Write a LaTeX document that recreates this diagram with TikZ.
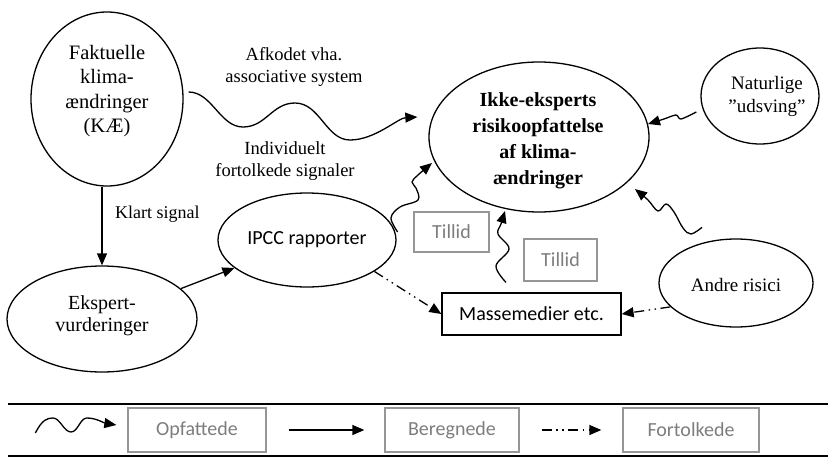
\documentclass[tikz,border=0pt]{standalone}
\usepackage{fontspec}
\setmainfont{Liberation Serif}
\newfontfamily\calib{Carlito}
\usetikzlibrary{arrows.meta,shapes.geometric,calc}
\definecolor{boxgray}{RGB}{150,150,150}
\definecolor{txtgray}{RGB}{125,125,125}
\begin{document}
\begin{tikzpicture}[x=1pt,y=-1pt,
  ell/.style={draw, ellipse, line width=1.3pt, inner sep=0pt},
  lbl/.style={align=center, inner sep=0pt},
  sansbox/.style={draw, line width=1.3pt, inner sep=0pt, font=\calib\fontsize{20}{24}\selectfont},
  gbox/.style={draw=boxgray, line width=1.3pt, text=txtgray, inner sep=0pt, font=\calib\fontsize{20}{24}\selectfont},
  conn/.style={line width=1.3pt, -{Triangle[length=12pt,width=10pt]}},
  wavy/.style={conn, line join=round},
  dd/.style={conn, dash pattern=on 10pt off 4.5pt on 1.5pt off 4.5pt on 1.5pt off 4.5pt},
  rule/.style={line width=1.8pt}
]
\useasboundingbox (0,0) rectangle (831,458);

% ellipses and boxes
\node[ell, minimum width=152pt, minimum height=174pt] (fak) at (107,99) {};
\node[ell, minimum width=190pt, minimum height=106pt] (eks) at (102,319) {};
\node[ell, minimum width=178pt, minimum height=94pt, font=\calib\fontsize{20}{24}\selectfont] (ipcc) at (307,240) {IPCC rapporter};
\node[ell, minimum width=220pt, minimum height=150pt] (ikke) at (539,137) {};
\node[ell, minimum width=118pt, minimum height=96pt] (nat) at (760,96) {};
\node[ell, minimum width=154pt, minimum height=88pt] (andre) at (736,283) {};
\node[sansbox, minimum width=179pt, minimum height=42pt] (mm) at (531.5,314) {Massemedier etc.};
\node[gbox, minimum width=75pt, minimum height=40pt] (t1) at (451.5,232) {Tillid};
\node[gbox, minimum width=73pt, minimum height=42pt] (t2) at (560.5,260) {Tillid};

% texts
\node[lbl, font=\fontsize{20.5}{24.5}\selectfont] (fakT) at (107,91) {Faktuelle\\klima-\\ændringer\\(KÆ)};
\node[lbl, font=\fontsize{20}{22}\selectfont] (eksT) at (102,316) {Ekspert-\\vurderinger};
\node[lbl, font=\bfseries\fontsize{20}{26}\selectfont] (ikkeT) at (538,141) {Ikke-eksperts\\risikoopfattelse\\af klima-\\ændringer};
\node[lbl, font=\fontsize{19}{23}\selectfont] (natT) at (767,96) {Naturlige\\”udsving”};
\node[lbl, font=\fontsize{19}{23}\selectfont] (andreT) at (736,285) {Andre risici};
\node[lbl, font=\fontsize{18.5}{22}\selectfont] (afk) at (294,67) {Afkodet vha.\\associative system};
\node[lbl, font=\fontsize{18.5}{22}\selectfont] (ind) at (285,161) {Individuelt\\fortolkede signaler};
\node[lbl, font=\fontsize{18}{22}\selectfont, anchor=west] (klart) at (115,214) {Klart signal};

% straight connectors
\draw[conn] (fak.south -| eks.north) -- (eks.north);
\draw[conn] (eks) -- (ipcc);
\draw[dd] (ipcc.-25) -- (mm.west);
\draw[dd] (andre.200) -- (mm.east);

% wavy connectors
\coordinate (w1s) at ($(fak.east)+(5,-7)$);
\coordinate (w1e) at ($(ikke.west)+(-11,-20)$);
\draw[wavy] (w1s) .. controls (212,92) and (220,127) .. (243,127)
  .. controls (266,127) and (272,103) .. (295,103)
  .. controls (320,103) and (326,140) .. (350,140)
  .. controls (375,140) and (398,118) .. (w1e);

\coordinate (w2s) at ($(ipcc.east)+(1,-8)$);
\draw[wavy] plot[smooth, tension=0.6] coordinates {(w2s) (391,218) (400,207) (418,200) (416,188) (412,182) (418,175) (432,163)};

\coordinate (w3s) at ($(mm.north)+(-25.5,-10)$);
\draw[wavy] plot[smooth, tension=0.6] coordinates {(w3s) (496,266) (509,249) (498,234) (501,224) (505,211)};

\coordinate (w4s) at ($(nat.west)+(-4,16)$);
\draw[wavy] plot[smooth, tension=0.5] coordinates {(w4s) (681,119) (676,115) (664,119) (648,124)};

\coordinate (w5s) at ($(andre.north)+(-34,-11)$);
\draw[wavy] plot[smooth, tension=0.6] coordinates {(w5s) (691,234) (683,228) (674,212) (666,204) (658,211) (648,200) (635,189)};

% legend
\draw[rule] (8,404) -- (828,404);
\draw[rule] (8,456) -- (828,456);
\node[gbox, minimum width=138pt, minimum height=44pt] (lo) at (197,430) {Opfattede};
\node[gbox, minimum width=134pt, minimum height=44pt] (lb) at (452,430) {Beregnede};
\node[gbox, minimum width=136pt, minimum height=44pt] (lf) at (691,430) {Fortolkede};
\coordinate (lws) at ($(lo.west)+(-92,3)$);
\coordinate (lwe) at ($(lo.west)+(-11,-5)$);
\draw[wavy] (lws) .. controls (42,420) and (47,418) .. (53,418)
  .. controls (60,418) and (64,432) .. (71,432)
  .. controls (78,432) and (80,418) .. (87,418)
  .. controls (96,418) and (104,423) .. (lwe);
\draw[conn] ($(lo.east)+(22,0)$) -- ($(lb.west)+(-20,0)$);
\draw[dd] ($(lb.east)+(22,0)$) -- ($(lf.west)+(-21,0)$);
\end{tikzpicture}
\end{document}
